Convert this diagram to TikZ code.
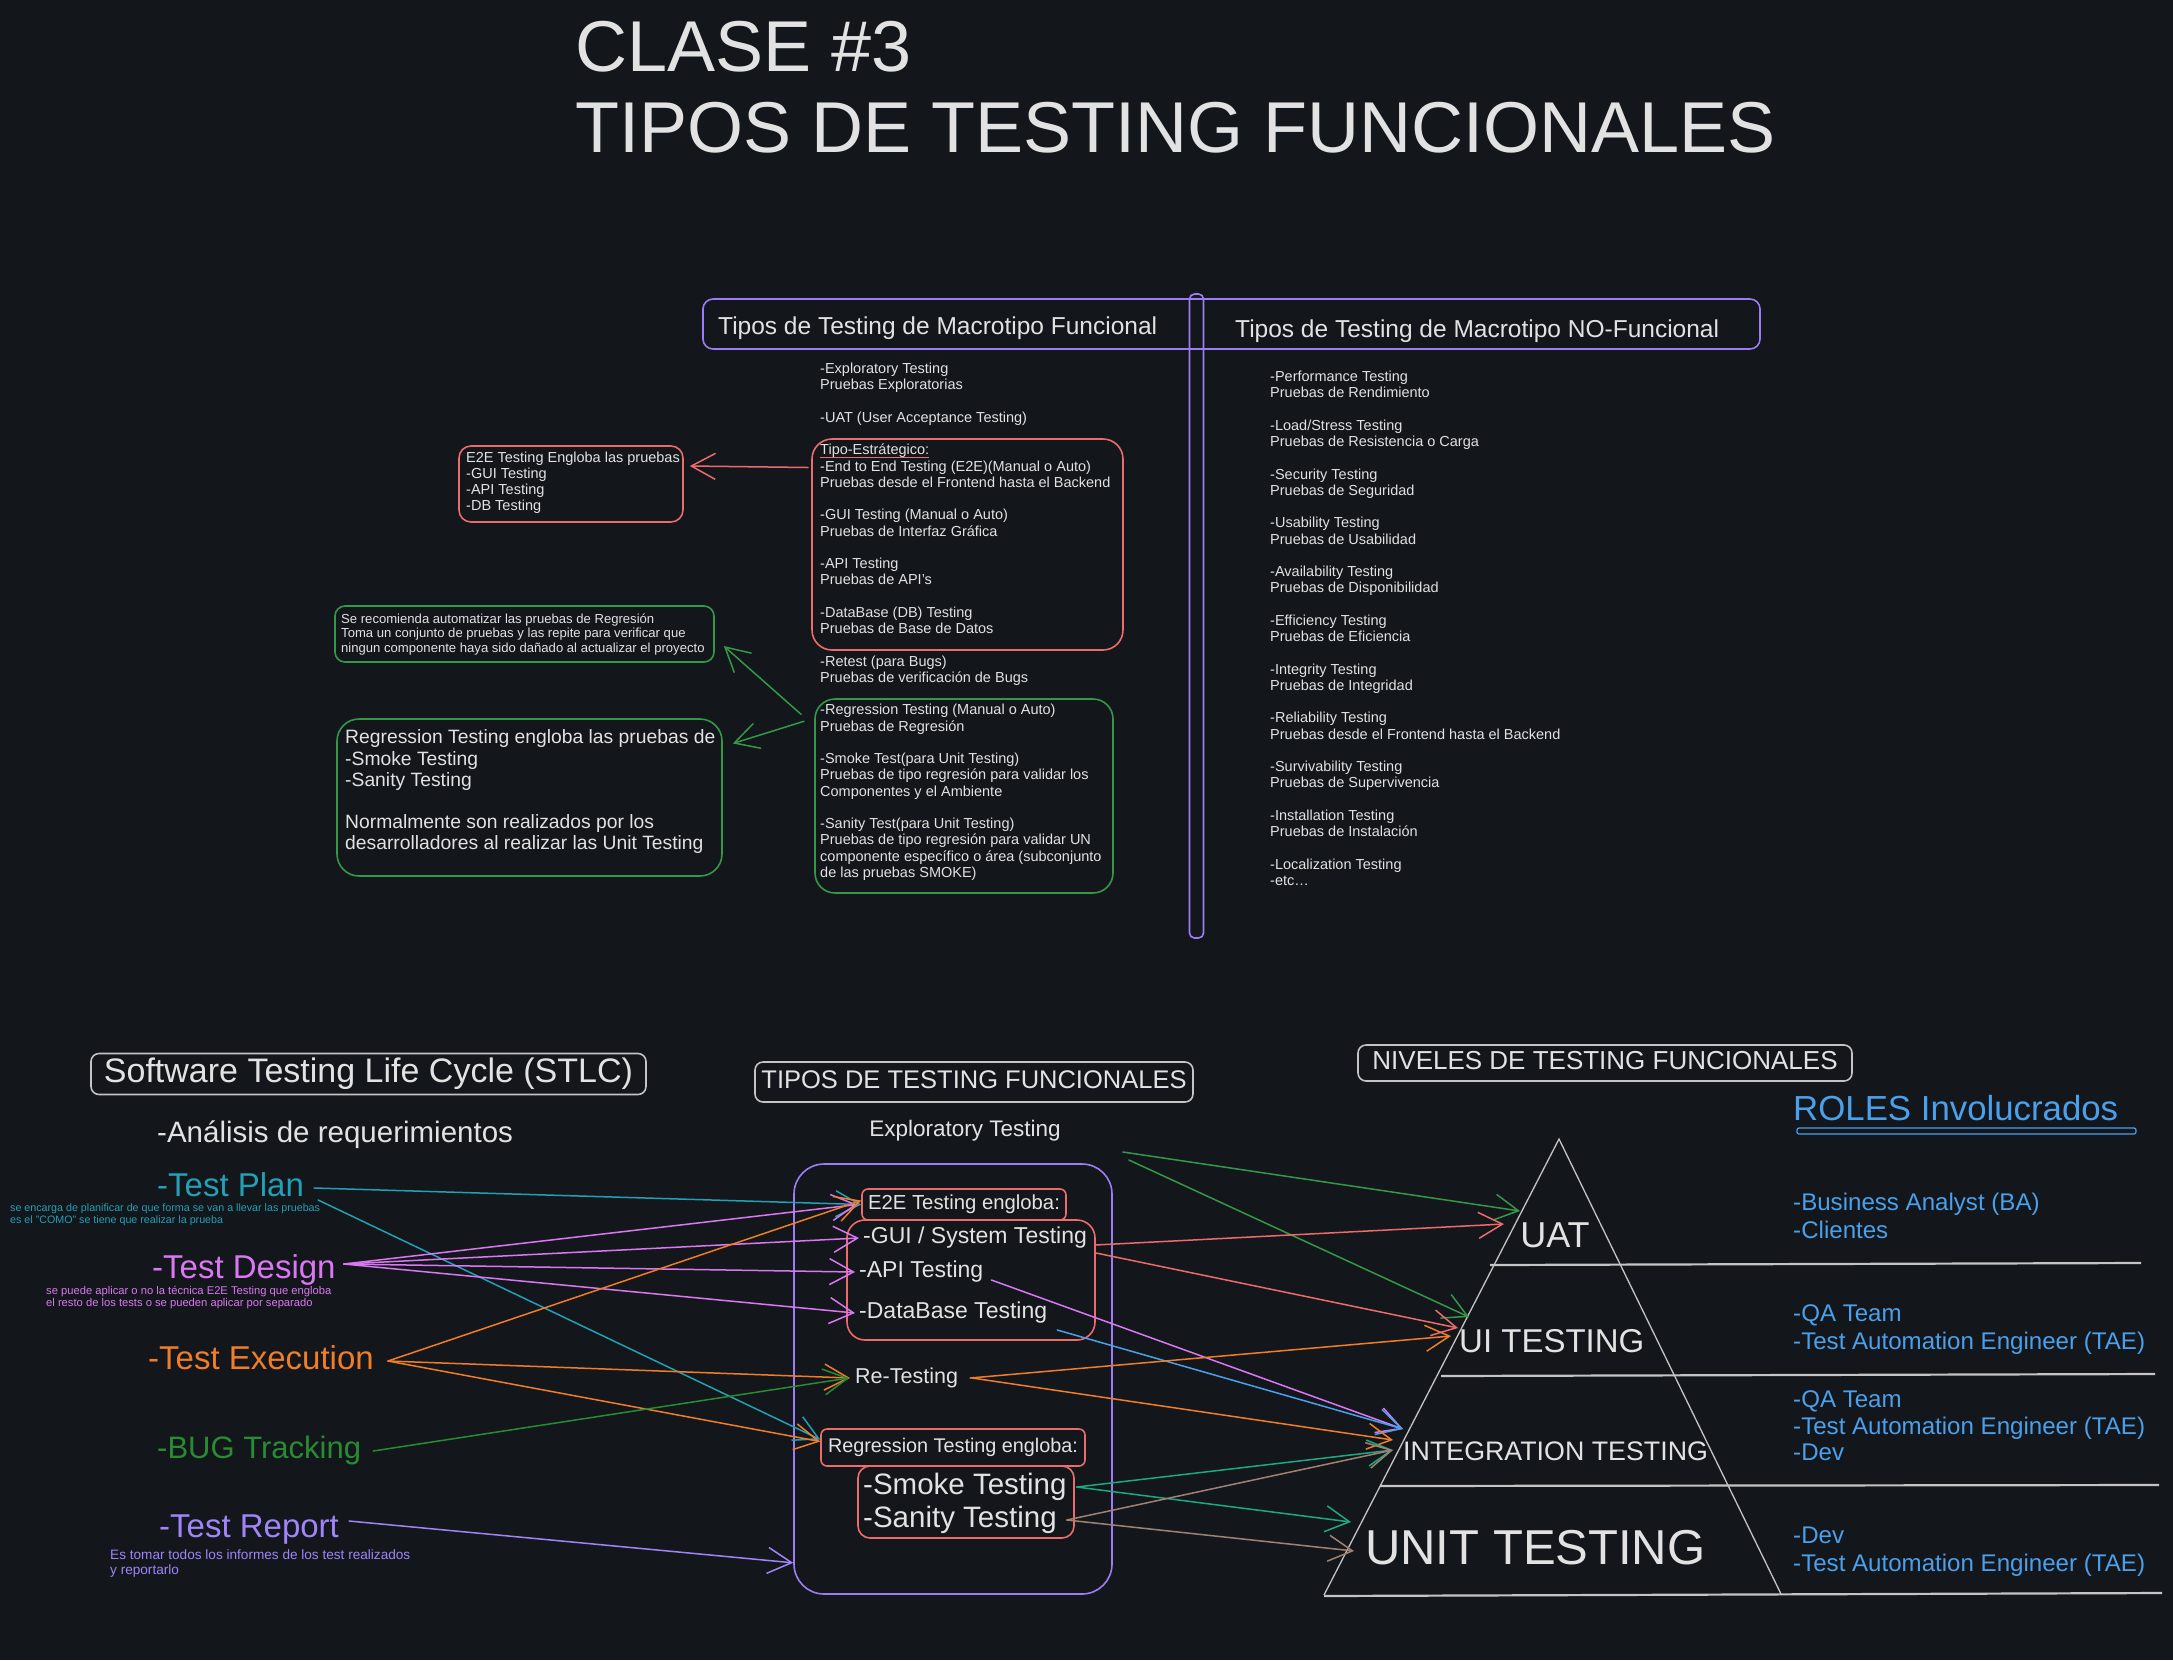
\documentclass[tikz,border=0pt]{standalone}
\usepackage{fontspec}
\setmainfont{Liberation Sans}
\usetikzlibrary{positioning, arrows.meta}

\definecolor{bgc}{RGB}{19,22,27}
\definecolor{ink}{RGB}{226,226,226}
\definecolor{lgray}{RGB}{196,196,196}
\definecolor{lila}{RGB}{157,125,245}
\definecolor{salmon}{RGB}{236,108,108}
\definecolor{leaf}{RGB}{52,152,72}
\definecolor{cplan}{RGB}{34,160,182}
\definecolor{cdesign}{RGB}{218,119,242}
\definecolor{cexec}{RGB}{240,125,40}
\definecolor{cbug}{RGB}{40,140,50}
\definecolor{creport}{RGB}{160,132,250}
\definecolor{crole}{RGB}{74,160,235}
\definecolor{csmoke}{RGB}{28,170,130}
\definecolor{csanity}{RGB}{160,130,115}

\tikzset{
  txt/.style={text=ink, inner sep=0pt},
  fnt/.style={font=\fontsize{#1}{#1}\selectfont, text height=0.7*#1, text depth=0.2*#1},
  bx/.style={draw=#1, line width=1.6pt, rounded corners=12pt, inner sep=0pt},
  arr/.style={draw=#1, line width=1.5pt, line cap=round, -{Straight Barb[length=24pt,width=26pt]}},
}

\begin{document}
\begin{tikzpicture}[x=1pt, y=-1pt]
  \fill[bgc] (0,0) rectangle (2173,1660);
  \useasboundingbox (0,0) rectangle (2173,1660);

  % titulo
  \node[txt, fnt=72, anchor=west] (clase) at (575,53) {CLASE \#3};
  \node[txt, fnt=72, anchor=west] (titulo) at (575,134) {TIPOS DE TESTING FUNCIONALES};

  % macrotipos
  \node[bx=lila, rounded corners=10pt, minimum width=1057, minimum height=50] (hdr) at (1231.5,324) {};
  \node[bx=lila, rounded corners=5pt, minimum width=14, minimum height=644] (vbar) at (1196.5,616) {};
  \node[txt, fnt=24.5, anchor=west] (hdrF) at (718,328) {Tipos de Testing de Macrotipo Funcional};
  \node[txt, fnt=24.5, anchor=west] (hdrNF) at (1235,331) {Tipos de Testing de Macrotipo NO-Funcional};

  \node[bx=salmon, rounded corners=20pt, minimum width=311, minimum height=211] (stratbox) at (967.5,544.5) {};
  \node[bx=leaf, rounded corners=20pt, minimum width=298, minimum height=194] (regrbox) at (964,796) {};

  \foreach \t [count=\i] in {-Exploratory Testing, Pruebas Exploratorias, , -UAT (User Acceptance Testing), ,
      Tipo-Estrátegico:, -End to End Testing (E2E)(Manual o Auto), Pruebas desde el Frontend hasta el Backend, ,
      -GUI Testing (Manual o Auto), Pruebas de Interfaz Gráfica, , -API Testing, Pruebas de API's, ,
      -DataBase (DB) Testing, Pruebas de Base de Datos, , -Retest (para Bugs), Pruebas de verificación de Bugs, ,
      -Regression Testing (Manual o Auto), Pruebas de Regresión, , -Smoke Test(para Unit Testing),
      Pruebas de tipo regresión para validar los, Componentes y el Ambiente, , -Sanity Test(para Unit Testing),
      Pruebas de tipo regresión para validar UN, componente específico o área (subconjunto, de las pruebas SMOKE)}
    \node[txt, fnt=14.5, anchor=west] (f\i) at (820,{370+16.25*(\i-1)}) {\t};
  \draw[salmon, line width=1.2pt] ([yshift=-3pt]f6.base west) -- ([yshift=-3pt]f6.base east);

  \foreach \t [count=\i] in {-Performance Testing, Pruebas de Rendimiento, ,
      -Load/Stress Testing, Pruebas de Resistencia o Carga, , -Security Testing, Pruebas de Seguridad, ,
      -Usability Testing, Pruebas de Usabilidad, , -Availability Testing, Pruebas de Disponibilidad, ,
      -Efficiency Testing, Pruebas de Eficiencia, , -Integrity Testing, Pruebas de Integridad, ,
      -Reliability Testing, Pruebas desde el Frontend hasta el Backend, , -Survivability Testing,
      Pruebas de Supervivencia, , -Installation Testing, Pruebas de Instalación, , -Localization Testing, -etc\ldots}
    \node[txt, fnt=14.5, anchor=west] (n\i) at (1270,{378+16.25*(\i-1)}) {\t};

  % notas de la izquierda
  \node[bx=salmon, minimum width=224, minimum height=76] (e2ebox) at (571,484) {};
  \foreach \t [count=\i] in {E2E Testing Engloba las pruebas, -GUI Testing, -API Testing, -DB Testing}
    \node[txt, fnt=14.5, anchor=west] (e\i) at (466,{459+16*(\i-1)}) {\t};

  \node[bx=leaf, rounded corners=10pt, minimum width=379, minimum height=56] (recbox) at (524.5,634) {};
  \foreach \t [count=\i] in {Se recomienda automatizar las pruebas de Regresión,
      Toma un conjunto de pruebas y las repite para verificar que,
      ningun componente haya sido dañado al actualizar el proyecto}
    \node[txt, fnt=13.1, anchor=west] (s\i) at (341,{620+14.5*(\i-1)}) {\t};

  \node[bx=leaf, rounded corners=22pt, minimum width=385, minimum height=157] (regbox) at (529.5,797.5) {};
  \foreach \t [count=\i] in {Regression Testing engloba las pruebas de, -Smoke Testing, -Sanity Testing, ,
      Normalmente son realizados por los, desarrolladores al realizar las Unit Testing}
    \node[txt, fnt=19.3, anchor=west] (g\i) at (345,{739+21.2*(\i-1)}) {\t};

  \draw[arr=salmon] ([xshift=-12pt]f7.west) -- ([xshift=6pt,yshift=18pt]e2ebox.east);
  \draw[arr=leaf] ([xshift=-19pt,yshift=-3pt]f22.west) -- ([xshift=9pt,yshift=-12pt]recbox.east);
  \draw[arr=leaf] ([xshift=-16pt,yshift=-10pt]f22.west) -- ([xshift=10pt,yshift=54pt]regbox.east);

  % STLC
  \node[bx=lgray, rounded corners=8pt, txt, fnt=34, minimum width=555, minimum height=41] (stlc) at (368.5,1074) {Software Testing Life Cycle (STLC)};
  \node[txt, fnt=29.5, anchor=west] (analisis) at (157,1135) {-Análisis de requerimientos};
  \node[txt, fnt=33, anchor=west, text=cplan] (plan) at (157,1188) {-Test Plan};
  \node[txt, fnt=10.7, anchor=west, text=cplan] (planA) at (10,1209) {se encarga de planificar de que forma se van a llevar las pruebas};
  \node[txt, fnt=10.7, anchor=west, text=cplan] (planB) at (10,1221) {es el "COMO" se tiene que realizar la prueba};
  \node[txt, fnt=33, anchor=west, text=cdesign] (design) at (152,1270) {-Test Design};
  \node[txt, fnt=11.2, anchor=west, text=cdesign] (designA) at (46,1292) {se puede aplicar o no la técnica E2E Testing que engloba};
  \node[txt, fnt=11.2, anchor=west, text=cdesign] (designB) at (46,1304) {el resto de los tests o se pueden aplicar por separado};
  \node[txt, fnt=33, anchor=west, text=cexec] (exec) at (148,1361) {-Test Execution};
  \node[txt, fnt=31, anchor=west, text=cbug] (bug) at (157,1451) {-BUG Tracking};
  \node[txt, fnt=33, anchor=west, text=creport] (report) at (159,1529) {-Test Report};
  \node[txt, fnt=13.6, anchor=west, text=creport] (reportA) at (110,1556) {Es tomar todos los informes de los test realizados};
  \node[txt, fnt=13.6, anchor=west, text=creport] (reportB) at (110,1571) {y reportarlo};

  % tipos de testing funcionales
  \node[bx=lgray, rounded corners=8pt, txt, fnt=25.5, minimum width=438, minimum height=40] (tiposF) at (974,1082) {TIPOS DE TESTING FUNCIONALES};
  \node[txt, fnt=22.5] (explo) at (965,1131) {Exploratory Testing};
  \node[bx=lila, rounded corners=30pt, minimum width=318, minimum height=430] (tfbox) at (953,1379) {};
  \node[bx=salmon, rounded corners=6pt, txt, fnt=20.3, minimum width=204, minimum height=31] (e2eh) at (964,1204.5) {E2E Testing engloba:};
  \node[bx=salmon, rounded corners=18pt, minimum width=248, minimum height=120] (guibox) at (971,1280) {};
  \node[txt, fnt=23, anchor=west] (gui) at (863,1238) {-GUI / System Testing};
  \node[txt, fnt=23, anchor=west] (api) at (859,1272) {-API Testing};
  \node[txt, fnt=23, anchor=west] (db) at (859,1313) {-DataBase Testing};
  \node[txt, fnt=21.5, anchor=west] (retest) at (855,1378) {Re-Testing};
  \node[bx=salmon, rounded corners=6pt, txt, fnt=19.8, minimum width=264, minimum height=37] (regh) at (953,1447.5) {Regression Testing engloba:};
  \node[bx=salmon, rounded corners=12pt, minimum width=216, minimum height=72] (ssbox) at (966,1502) {};
  \node[txt, fnt=29.5, anchor=west] (smoke) at (863,1487) {-Smoke Testing};
  \node[txt, fnt=29.5, anchor=west] (sanity) at (863,1520) {-Sanity Testing};

  % niveles
  \node[bx=lgray, rounded corners=8pt, txt, fnt=26, minimum width=494, minimum height=36] (niveles) at (1605,1063) {NIVELES DE TESTING FUNCIONALES};
  \node[txt, fnt=34.8, anchor=west, text=crole] (roles) at (1793,1112) {ROLES Involucrados};
  \draw[crole, line width=1.2pt, rounded corners=2pt] (1797,1128) rectangle (2136,1134);

  \coordinate (apex) at (1559,1139);
  \coordinate (baseL) at (1324,1595);
  \coordinate (baseR) at (1781,1594);
  \draw[lgray, line width=1.3pt] (baseL) -- (apex) -- (baseR);
  \draw[lgray, line width=2.2pt] (1490,1265) -- (2141,1263);
  \draw[lgray, line width=2.2pt] (1441,1376) -- (2155,1374);
  \draw[lgray, line width=2.2pt] (1380,1486) -- (2159,1485);
  \draw[lgray, line width=2.2pt] (1324,1596) -- (2162,1593);

  \node[txt, fnt=36] (uat) at (1555,1238) {UAT};
  \node[txt, fnt=33, anchor=west] (ui) at (1459,1344) {UI TESTING};
  \node[txt, fnt=26.8, anchor=west] (integ) at (1403,1454) {INTEGRATION TESTING};
  \node[txt, fnt=49, anchor=west] (unit) at (1365,1552) {UNIT TESTING};

  \foreach \t/\y [count=\i] in {-Business Analyst (BA)/1204, -Clientes/1232, -QA Team/1315,
      -Test Automation Engineer (TAE)/1343, -QA Team/1401, -Test Automation Engineer (TAE)/1428,
      -Dev/1454, -Dev/1537, -Test Automation Engineer (TAE)/1565}
    \node[txt, fnt=24.1, anchor=west, text=crole] (r\i) at (1793,\y) {\t};

  \coordinate (tUAT1) at (1520,1211);
  \coordinate (tUAT2) at (1504,1224);
  \coordinate (tUI1) at (1469,1317);
  \coordinate (tUI2) at (1458,1328);
  \coordinate (tUI3) at (1451,1336);
  \coordinate (tINT1) at (1403,1429);
  \coordinate (tINT2) at (1393,1440);
  \coordinate (tINT3) at (1393,1450);
  \coordinate (tUNIT1) at (1351,1522);
  \coordinate (tUNIT2) at (1354,1551);

  % STLC -> tipos
  \draw[arr=cplan] ([xshift=10pt]plan.east) -- (e2eh.west);
  \draw[arr=cplan] ([xshift=14pt,yshift=-12pt]plan.east) -- ([yshift=8pt]regh.west);
  \foreach \d in {e2eh, gui, api, db}
    \draw[arr=cdesign] ([xshift=8pt,yshift=6pt]design.east) -- ([xshift=-4pt]\d.west);
  \draw[arr=cexec] ([xshift=14pt]exec.east) -- ([yshift=4pt]e2eh.west);
  \draw[arr=cexec] ([xshift=14pt]exec.east) -- ([xshift=-5pt]retest.west);
  \draw[arr=cexec] ([xshift=14pt]exec.east) -- ([yshift=6pt]regh.west);
  \draw[arr=cbug] ([xshift=12pt]bug.east) -- ([xshift=-6pt]retest.west);
  \draw[arr=creport] ([xshift=10pt,yshift=8pt]report.east) -- ([yshift=32pt]tfbox.south west);

  % tipos -> niveles
  \draw[arr=leaf] ([xshift=62pt,yshift=-21pt]explo.east) -- (tUAT1);
  \draw[arr=leaf] ([xshift=68pt,yshift=-29pt]explo.east) -- (tUI1);
  \draw[arr=salmon] ([xshift=8pt,yshift=-7pt]gui.east) -- (tUAT2);
  \draw[arr=salmon] ([xshift=9pt,yshift=-15pt]gui.east) -- (tUI2);
  \draw[arr=cdesign] ([xshift=8pt,yshift=-8pt]api.east) -- (tINT1);
  \draw[arr=crole] ([xshift=10pt,yshift=-17pt]db.east) -- (tINT1);
  \draw[arr=cexec] ([xshift=12pt]retest.east) -- (tUI3);
  \draw[arr=cexec] ([xshift=14pt]retest.east) -- (tINT2);
  \draw[arr=csmoke] ([xshift=10pt]smoke.east) -- (tINT3);
  \draw[arr=csmoke] ([xshift=10pt]smoke.east) -- (tUNIT1);
  \draw[arr=csanity] ([xshift=10pt]sanity.east) -- (tINT3);
  \draw[arr=csanity] ([xshift=10pt]sanity.east) -- (tUNIT2);
\end{tikzpicture}
\end{document}
